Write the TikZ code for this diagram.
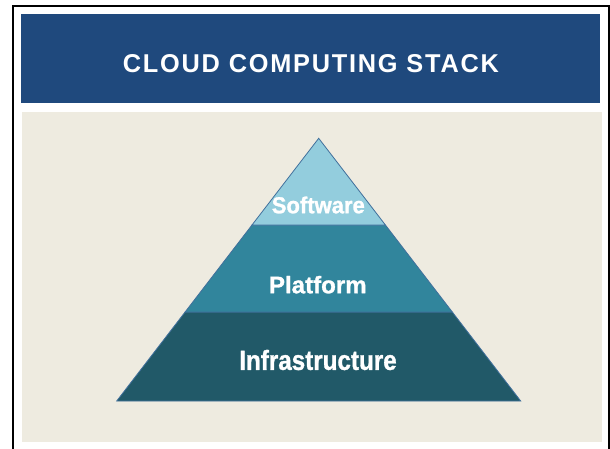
\documentclass[tikz,border=0pt]{standalone}
\usepackage{graphicx}
\usepackage{fontspec}
\setmainfont{Liberation Sans}
\newfontfamily\titlefont[LetterSpace=7]{Liberation Sans}
\newfontfamily\labelfont[BoldFeatures={FakeBold=1.2}]{Liberation Sans}

\definecolor{headerblue}{HTML}{1F497D}
\definecolor{panelbg}{HTML}{EEEBE0}
\definecolor{softwarefill}{HTML}{93CDDD}
\definecolor{platformfill}{HTML}{31859C}
\definecolor{infrafill}{HTML}{215968}
\definecolor{layeredge}{HTML}{41709C}

\tikzset{
  layer/.style={draw=layeredge, line width=0.8pt, line join=miter},
  layerlabel/.style={inner sep=0pt, text=white},
  titlelabel/.style={inner sep=0pt, text=white}
}

\begin{document}
\begin{tikzpicture}[x=1pt, y=-1pt]
  \useasboundingbox (0,0) rectangle (610,449);
  \clip (0,0) rectangle (610,449);
  \fill[white] (0,0) rectangle (610,449);

  % outer frame (open at the bottom)
  \draw[black, line width=2pt] (12.5,470) -- (12.5,5.8) -- (608.5,5.8) -- (608.5,470);

  % title bar
  \fill[headerblue] (21,14) rectangle (600,103);
  \node[titlelabel] (title) at (310.9,63.9)
    {\resizebox{376pt}{18pt}{\titlefont\bfseries CLOUD COMPUTING STACK}};

  % panel behind the pyramid
  \fill[panelbg] (22,112) rectangle (602,442);

  % pyramid corners and layer boundaries
  \coordinate (apex) at (318.7,138.3);
  \coordinate (sl) at (252.0,225);
  \coordinate (sr) at (385.4,225);
  \coordinate (pl) at (185.1,312);
  \coordinate (pr) at (452.3,312);
  \coordinate (bl) at (116.7,401);
  \coordinate (br) at (520.7,401);

  \filldraw[layer, fill=infrafill] (pl) -- (pr) -- (br) -- (bl) -- cycle;
  \filldraw[layer, fill=platformfill] (sl) -- (sr) -- (pr) -- (pl) -- cycle;
  \filldraw[layer, fill=softwarefill] (apex) -- (sr) -- (sl) -- cycle;

  % layer names
  \node[layerlabel] (software) at (318.3,205.0) {\resizebox{93pt}{16.7pt}{\labelfont\bfseries Software}};
  \node[layerlabel] (platform) at (317.8,284.7) {\resizebox{97.7pt}{17.3pt}{\labelfont\bfseries Platform}};
  \node[layerlabel] (infrastructure) at (318.0,360.0) {\resizebox{157.4pt}{20pt}{\labelfont\bfseries Infrastructure}};
\end{tikzpicture}
\end{document}
